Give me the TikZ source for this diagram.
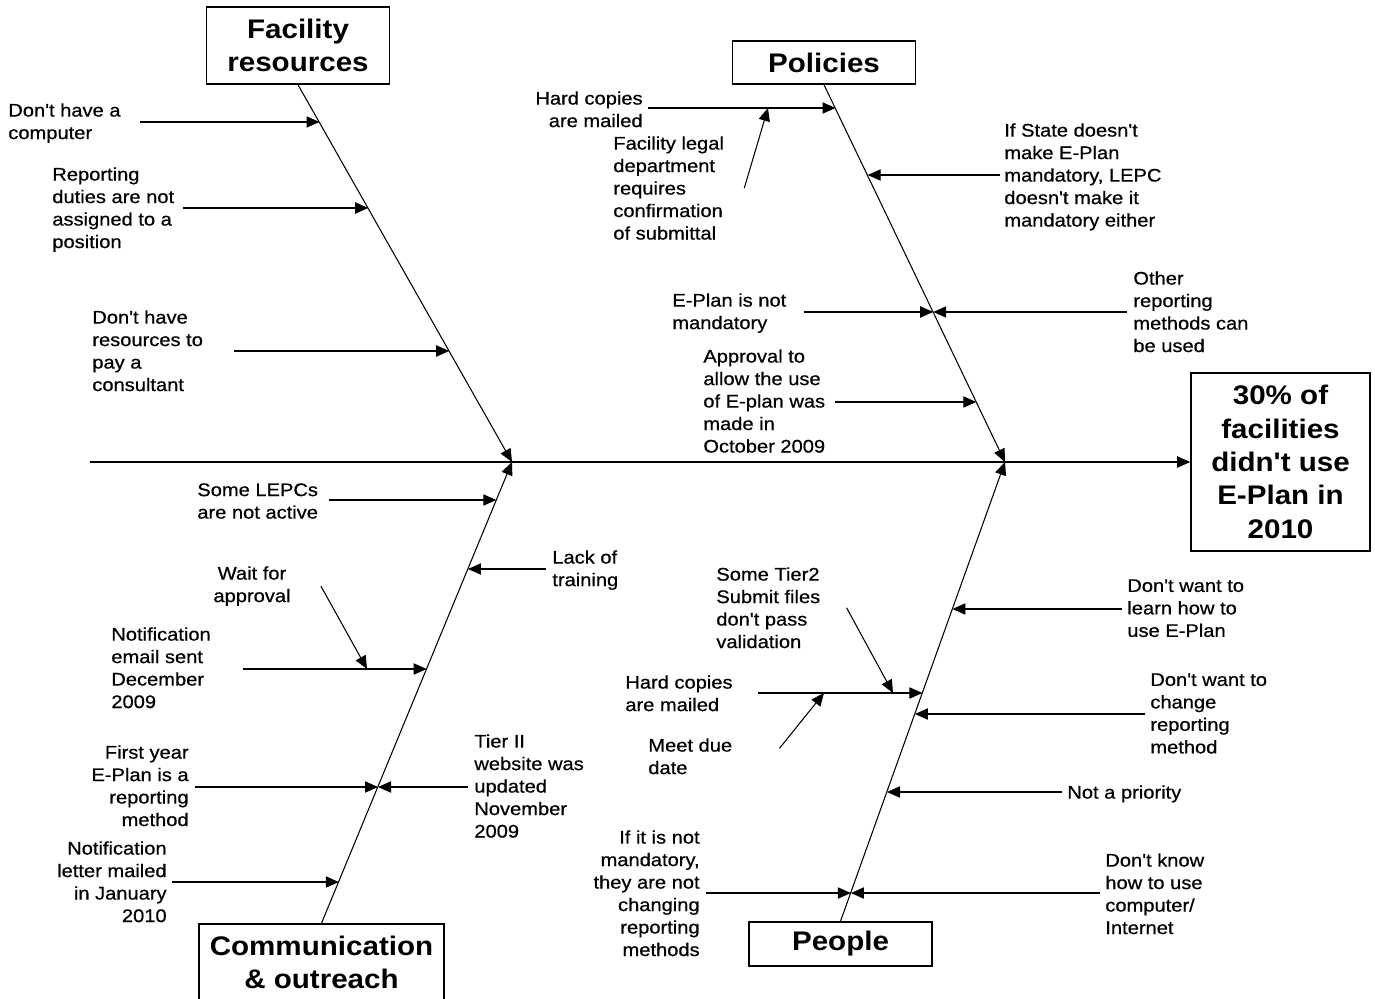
\documentclass[tikz,border=0pt]{standalone}
\usepackage{fontspec}
\setmainfont[FakeStretch=1.1, Ligatures=TeXOff]{Liberation Sans}
\newfontfamily\txtfont[FakeStretch=1.1, Ligatures=TeXOff, FakeBold=0.6]{Liberation Sans}
\usetikzlibrary{arrows.meta}

\begin{document}
\begin{tikzpicture}[
  x=0.02cm, y=-0.02cm,
  cat/.style={draw, line width=0.9pt, align=center, inner sep=0pt, minimum width=3.66cm, font=\bfseries\fontsize{15.3}{19}\selectfont},
  txt/.style={inner sep=0pt, align=left, anchor=north west, font=\txtfont\fontsize{10.4}{12.8}\selectfont},
  rtxt/.style={txt, align=right, anchor=north east},
  cause/.style={line width=0.6pt, -{Triangle[length=7.4pt, width=6.4pt]}}
]
\useasboundingbox (0,0) rectangle (1375,999);

\node[cat, minimum height=1.54cm] (fac) at (298,45.5) {Facility\\resources};
\node[cat, minimum height=0.86cm] (pol) at (824,62.5) {Policies};
\node[cat, minimum width=4.9cm, minimum height=1.54cm] (com) at (321.5,962.5) {Communication\\\& outreach};
\node[cat, minimum height=0.88cm] (peo) at (840.5,944) {People};
\node[cat, minimum width=3.58cm, minimum height=3.56cm] (eff) at (1280.5,462) {30\% of\\facilities\\didn't use\\E-Plan in\\2010};

\node[txt] (fac1) at (8,103) {Don't have a\\computer};
\node[txt] (fac2) at (52,167) {Reporting\\duties are not\\assigned to a\\position};
\node[txt] (fac3) at (92,310) {Don't have\\resources to\\pay a\\consultant};

\node[rtxt] (pol1) at (643,91) {Hard copies\\are mailed};
\node[txt] (pol2) at (613,136) {Facility legal\\department\\requires\\confirmation\\of submittal};
\node[txt] (pol3) at (1004,123) {If State doesn't\\make E-Plan\\mandatory, LEPC\\doesn't make it\\mandatory either};
\node[txt] (pol4) at (672,293) {E-Plan is not\\mandatory};
\node[txt] (pol5) at (1133,271) {Other\\reporting\\methods can\\be used};
\node[txt] (pol6) at (703,349) {Approval to\\allow the use\\of E-plan was\\made in\\October 2009};

\node[txt] (com1) at (197,483) {Some LEPCs\\are not active};
\node[txt] (com2) at (552,550) {Lack of\\training};
\node[txt, align=center, anchor=north] (com3) at (252,566) {Wait for\\approval};
\node[txt] (com4) at (111,627) {Notification\\email sent\\December\\2009};
\node[rtxt] (com5) at (189,745) {First year\\E-Plan is a\\reporting\\method};
\node[txt] (com6) at (474,734) {Tier II\\website was\\updated\\November\\2009};
\node[rtxt] (com7) at (167,841) {Notification\\letter mailed\\in January\\2010};

\node[txt] (peo1) at (1127,579) {Don't want to\\learn how to\\use E-Plan};
\node[txt] (peo2) at (716,567) {Some Tier2\\Submit files\\don't pass\\validation};
\node[txt] (peo3) at (625,675) {Hard copies\\are mailed};
\node[txt] (peo4) at (648,738) {Meet due\\date};
\node[txt] (peo5) at (1150,673) {Don't want to\\change\\reporting\\method};
\node[txt] (peo6) at (1067,785) {Not a priority};
\node[rtxt] (peo7) at (700,830) {If it is not\\mandatory,\\they are not\\changing\\reporting\\methods};
\node[txt] (peo8) at (1105,853) {Don't know\\how to use\\computer/\\Internet};

\coordinate (spl) at (90,462);
\coordinate (hd1) at (512,462);
\coordinate (hd2) at (1005,462);
\coordinate (fa1) at (319.5,122);
\coordinate (fa2) at (368.2,208);
\coordinate (fa3) at (449.2,351);
\coordinate (po1) at (835.5,108);
\coordinate (po2) at (867.6,175);
\coordinate (po3) at (933.2,312);
\coordinate (po4) at (976.3,402);
\coordinate (co1) at (496.3,500);
\coordinate (co2) at (467.9,569);
\coordinate (co3) at (426.7,669);
\coordinate (co4) at (378.0,787);
\coordinate (co5) at (338.8,882);
\coordinate (pe1) at (952.4,609);
\coordinate (pe2) at (922.4,693);
\coordinate (pe3) at (914.9,714);
\coordinate (pe4) at (887.0,792);
\coordinate (pe5) at (850.9,893);
\coordinate (po1a) at (768,108);
\coordinate (co3a) at (367,669);
\coordinate (pe2a) at (893,693);
\coordinate (pe2b) at (824,693);

\draw[cause] (spl) -- (eff);
\draw[cause] (fac.south) -- (hd1);
\draw[cause] (com.north) -- (hd1);
\draw[cause] (pol.south) -- (hd2);
\draw[cause] (peo.north) -- (hd2);

\draw[cause, shorten <=0.38cm] (fa1 -| fac1.east) -- (fa1);
\draw[cause, shorten <=0.18cm] (fa2 -| fac2.east) -- (fa2);
\draw[cause, shorten <=0.62cm] (fa3 -| fac3.east) -- (fa3);

\draw[cause, shorten <=0.1cm] (po1 -| pol1.east) -- (po1);
\draw[cause] ([xshift=0.4cm]pol2.east) -- (po1a);
\draw[cause, shorten <=0.08cm] (po2 -| pol3.west) -- (po2);
\draw[cause, shorten <=0.34cm] (po3 -| pol4.east) -- (po3);
\draw[cause, shorten <=0.12cm] (po3 -| pol5.west) -- (po3);
\draw[cause, shorten <=0.18cm] (po4 -| pol6.east) -- (po4);

\draw[cause, shorten <=0.22cm] (co1 -| com1.east) -- (co1);
\draw[cause, shorten <=0.12cm] (co2 -| com2.west) -- (co2);
\draw[cause] ([xshift=0.6cm]com3.east) -- (co3a);
\draw[cause, shorten <=0.64cm] (co3 -| com4.east) -- (co3);
\draw[cause, shorten <=0.12cm] (co4 -| com5.east) -- (co4);
\draw[cause, shorten <=0.12cm] (co4 -| com6.west) -- (co4);
\draw[cause, shorten <=0.1cm] (co5 -| com7.east) -- (co5);

\draw[cause, shorten <=0.1cm] (pe1 -| peo1.west) -- (pe1);
\draw[cause] ([xshift=0.52cm]peo2.east) -- (pe2a);
\draw[cause, shorten <=0.5cm] (pe2 -| peo3.east) -- (pe2);
\draw[cause] ([shift={(0.94cm,0.16cm)}]peo4.east) -- (pe2b);
\draw[cause, shorten <=0.1cm] (pe3 -| peo5.west) -- (pe3);
\draw[cause, shorten <=0.1cm] (pe4 -| peo6.west) -- (pe4);
\draw[cause, shorten <=0.12cm] (pe5 -| peo7.east) -- (pe5);
\draw[cause, shorten <=0.1cm] (pe5 -| peo8.west) -- (pe5);
\end{tikzpicture}
\end{document}
